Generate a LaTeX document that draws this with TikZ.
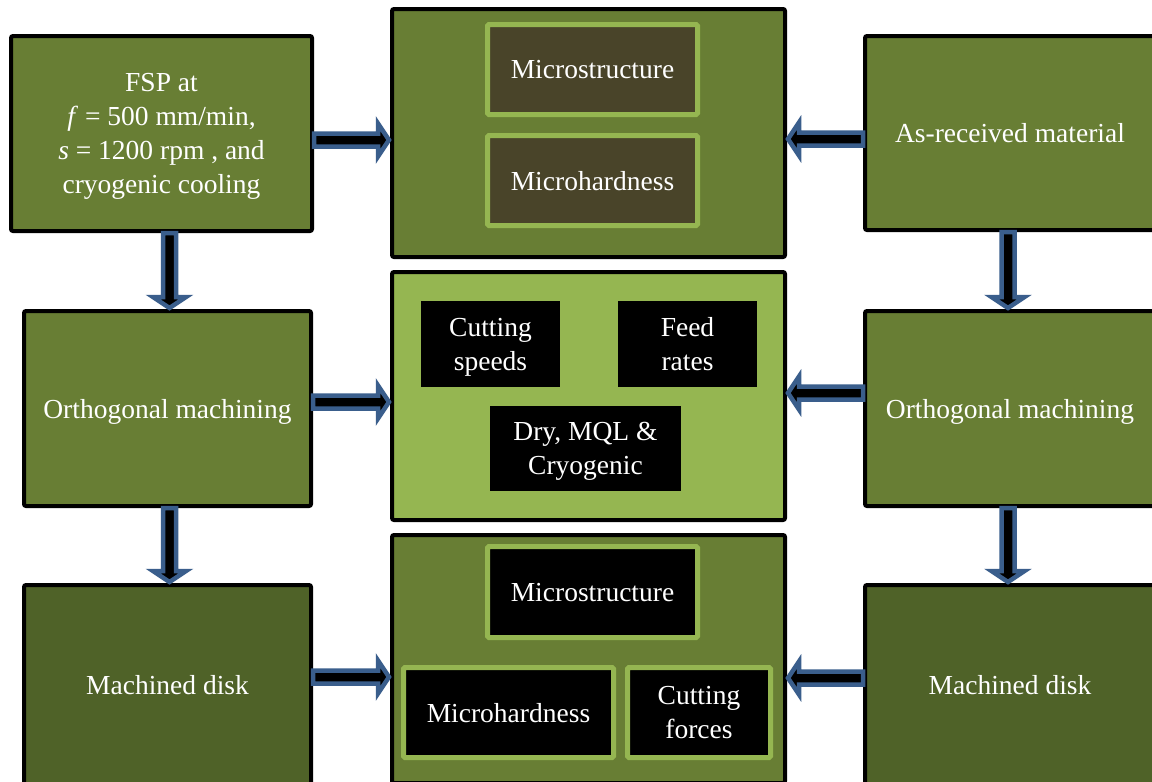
\documentclass[tikz,border=0pt]{standalone}
\usepackage{fontspec}
\setmainfont{Liberation Serif}
\usetikzlibrary{calc}
\definecolor{midgreen}{HTML}{687E34}
\definecolor{darkgreen}{HTML}{4F6228}
\definecolor{lightgreen}{HTML}{95B651}
\definecolor{innerdark}{HTML}{494429}
\definecolor{arrowblue}{HTML}{3A5E8C}
\tikzset{
  txt/.style={text=white, align=center, text depth=0pt, font=\fontsize{27.5}{34}\selectfont},
  bigbox/.style={txt, draw=black, line width=4pt, rounded corners=2pt, fill=midgreen},
  innerbox/.style={txt, draw=lightgreen, line width=5pt, rounded corners=1.5pt},
  plainbox/.style={txt, fill=black},
  barrow/.style={fill=black, draw=arrowblue, line width=4.5pt},
  harrow/.style={barrow, to path={let \p1=(\tikztostart), \p2=(\tikztotarget), \n1={sign(\x2-\x1)} in
     (\x1,\y1+6.5pt) -- (\x2-\n1*12pt,\y1+6.5pt) -- (\x2-\n1*12pt,\y1+16.5pt) -- (\x2-\n1*1pt,\y1)
     -- (\x2-\n1*12pt,\y1-16.5pt) -- (\x2-\n1*12pt,\y1-6.5pt) -- (\x1,\y1-6.5pt) -- cycle}},
  varrow/.style={barrow, to path={let \p1=(\tikztostart), \p2=(\tikztotarget), \n1={sign(\y2-\y1)} in
     (\x1+6.5pt,\y1) -- (\x1+6.5pt,\y2-\n1*12pt) -- (\x1+16.5pt,\y2-\n1*12pt) -- (\x1,\y2-\n1*1pt)
     -- (\x1-16.5pt,\y2-\n1*12pt) -- (\x1-6.5pt,\y2-\n1*12pt) -- (\x1-6.5pt,\y1) -- cycle}},
}
\begin{document}
\begin{tikzpicture}[x=1pt,y=-1pt]
\useasboundingbox (0,0) rectangle (1152,782);
\clip (0,0) rectangle (1152,782);
\fill[white] (0,0) rectangle (1152,782);
% left column
\node[bigbox, minimum width=301pt, minimum height=195pt] (L1) at (161.5,133.5)
  {FSP at\\ \textit{f} = 500 mm/min,\\ \textit{s} = 1200 rpm , and\\ cryogenic cooling};
\node[bigbox, minimum width=287pt, minimum height=195pt] (L2) at (167.5,408.5) {Orthogonal machining};
\node[bigbox, fill=darkgreen, minimum width=287pt, minimum height=200pt] (L3) at (167.5,685) {Machined disk};
% right column
\node[bigbox, minimum width=290pt, minimum height=194pt] (R1) at (1010,133) {As-received material};
\node[bigbox, minimum width=290pt, minimum height=195pt] (R2) at (1010,408.5) {Orthogonal machining};
\node[bigbox, fill=darkgreen, minimum width=290pt, minimum height=200pt] (R3) at (1010,685) {Machined disk};
% middle column
\node[bigbox, minimum width=393pt, minimum height=248pt] (M1) at (588.5,133) {};
\node[bigbox, fill=lightgreen, minimum width=393pt, minimum height=248pt] (M2) at (588.5,396) {};
\node[bigbox, minimum width=393pt, minimum height=248pt] (M3) at (588.5,659) {};
% inner boxes
\node[innerbox, fill=innerdark, minimum width=210pt, minimum height=90pt] (M1a) at (592.5,69.5) {Microstructure};
\node[innerbox, fill=innerdark, minimum width=210pt, minimum height=90pt] (M1b) at (592.5,180.5) {Microhardness};
\node[plainbox, minimum width=139pt, minimum height=86pt] (M2a) at (490.5,344) {Cutting\\ speeds};
\node[plainbox, minimum width=139pt, minimum height=86pt] (M2b) at (687.5,344) {Feed\\ rates};
\node[plainbox, minimum width=191pt, minimum height=85pt] (M2c) at (585.5,448.5) {Dry, MQL \&\\ Cryogenic};
\node[innerbox, fill=black, minimum width=210pt, minimum height=91pt] (M3a) at (592.5,592) {Microstructure};
\node[innerbox, fill=black, minimum width=210pt, minimum height=90pt] (M3b) at (508.5,712.5) {Microhardness};
\node[innerbox, fill=black, minimum width=143pt, minimum height=90pt] (M3c) at (699,712.5) {Cutting\\ forces};
% horizontal arrows
\draw[harrow] (L1.east |- 0,140) to (M1.west |- 0,140);
\draw[harrow] (R1.west |- 0,139) to (M1.east |- 0,139);
\draw[harrow] (L2.east |- 0,402) to (M2.west |- 0,402);
\draw[harrow] (R2.west |- 0,393) to (M2.east |- 0,393);
\draw[harrow] (L3.east |- 0,677) to (M3.west |- 0,677);
\draw[harrow] (R3.west |- 0,678) to (M3.east |- 0,678);
% vertical arrows
\draw[varrow] (L1.south -| 169.5,0) to (L2.north -| 169.5,0);
\draw[varrow] (L2.south -| 169.5,0) to (L3.north -| 169.5,0);
\draw[varrow] (R1.south -| 1008,0) to (R2.north -| 1008,0);
\draw[varrow] (R2.south -| 1008,0) to (R3.north -| 1008,0);
\end{tikzpicture}
\end{document}
